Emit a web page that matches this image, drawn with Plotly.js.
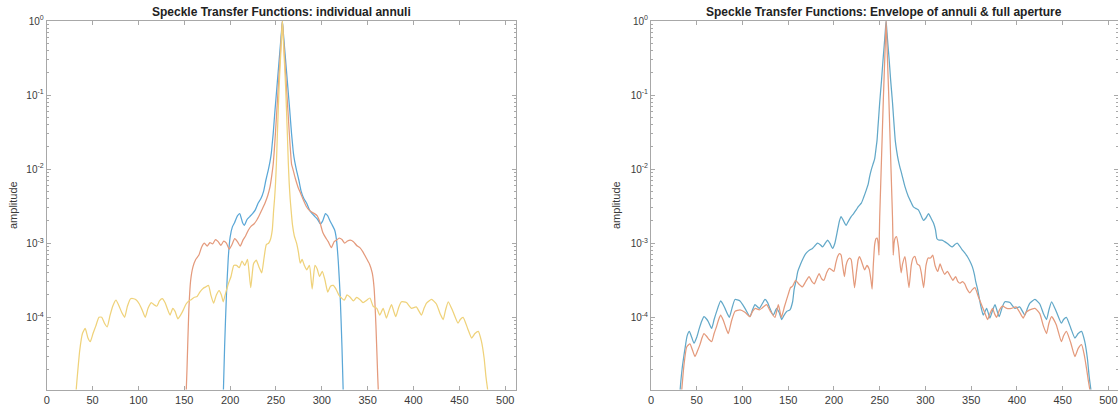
<!DOCTYPE html>
<html>
<head>
<meta charset="utf-8">
<script src="https://cdn.plot.ly/plotly-3.0.1.min.js"></script>
<style>html,body{margin:0;padding:0;background:#fff;}#chart{width:1118px;height:408px;}</style>
</head>
<body>
<div id="chart"></div>
<script>
// ---------- data ----------
const xTicks = [0, 50, 100, 150, 200, 250, 300, 350, 400, 450, 500];
const yTickVals = [1e-4, 1e-3, 1e-2, 1e-1, 1];
const yTickText = ['10<sup>-4</sup>', '10<sup>-3</sup>', '10<sup>-2</sup>', '10<sup>-1</sup>', '10<sup>0</sup>'];

const titleLeft = 'Speckle Transfer Functions: individual annuli';
const titleRight = 'Speckle Transfer Functions: Envelope of annuli & full aperture';
const yLabel = 'amplitude';

// left panel, inner annulus (blue)
const innerX = [192,194,196,198,200,202.5,205,208,210.5,213.5,215.5,218.5,221.5,224.5,227.5,230.5,233.5,236.5,239,241.5,243.5,245,246,247,248,249,250,251,252,253,254,255,256,257,
  258,259,260,261,262,263,264,265,266,267,268,269,270.5,272.5,275,277.5,280.5,283.5,286.5,289.5,292.5,295.5,298.5,301,304,306.5,309,311.5,314,316,318,320,322,324];
const innerY = [5.01e-6,3.98e-5,2.0e-4,6.31e-4,1.20e-3,1.66e-3,1.91e-3,2.34e-3,2.51e-3,1.91e-3,1.74e-3,2.09e-3,2.29e-3,2.51e-3,2.82e-3,3.47e-3,3.98e-3,5.01e-3,7.08e-3,9.55e-3,1.26e-2,1.66e-2,2.24e-2,3.02e-2,4.37e-2,6.31e-2,8.91e-2,0.126,0.178,0.251,0.355,0.501,0.708,1,
  0.708,0.501,0.355,0.251,0.178,0.126,8.91e-2,6.31e-2,4.37e-2,3.02e-2,2.24e-2,1.66e-2,1.26e-2,9.55e-3,7.08e-3,5.01e-3,3.98e-3,3.47e-3,2.82e-3,2.51e-3,2.29e-3,2.09e-3,1.82e-3,2.0e-3,2.51e-3,2.34e-3,2.0e-3,1.74e-3,1.51e-3,1.12e-3,5.62e-4,2.0e-4,3.98e-5,5.01e-6];

// left panel, middle annulus (red)
const middleX = [151,153,155,157,159.5,162.5,166,169,172,175,178,181,184,187,190,193,196,199,202,205,208,211,214,217,220,223,226,229,232,235,238,241,243.5,245.5,247,248,249,250,251,252,253,254,255,256,257,
  258,259,260,261,262,263,264,265,266,267,268.5,271,274,277,280,283,286,289,292,295,298,301,304,307,310.5,313.5,316,319,322,325,328,331,334.5,338,341.5,345,348.5,352,355,357,359,361,363];
const middleY = [3.98e-6,2.0e-5,1.26e-4,3.16e-4,4.79e-4,6.03e-4,6.92e-4,8.91e-4,1.0e-3,9.12e-4,1.02e-3,9.77e-4,1.12e-3,1.05e-3,9.33e-4,1.07e-3,1.0e-3,8.32e-4,9.55e-4,1.15e-3,1.05e-3,9.12e-4,1.10e-3,1.26e-3,1.51e-3,1.70e-3,1.82e-3,2.04e-3,2.40e-3,2.88e-3,3.47e-3,4.37e-3,5.75e-3,8.32e-3,1.17e-2,1.66e-2,2.51e-2,3.98e-2,6.31e-2,0.1,0.158,0.251,0.398,0.631,1,
  0.631,0.398,0.251,0.158,0.1,6.31e-2,3.98e-2,2.51e-2,1.66e-2,1.17e-2,1.0e-2,7.59e-3,5.75e-3,4.68e-3,3.80e-3,3.16e-3,2.82e-3,2.63e-3,2.51e-3,2.34e-3,1.91e-3,1.41e-3,1.20e-3,1.05e-3,8.71e-4,1.05e-3,1.10e-3,1.17e-3,1.12e-3,1.0e-3,1.07e-3,1.10e-3,1.05e-3,9.33e-4,8.71e-4,7.59e-4,6.31e-4,5.25e-4,3.98e-4,2.51e-4,7.94e-5,1.58e-5,3.98e-6];

// left panel, outer annulus (yellow)
const outerX = [30,33,36,39,42,45,47.5,50.5,53.5,57,60,63,66,69,72,75.5,79,82,85,88,91.5,95,98,101,104,107.5,110.5,114,117,120,123,126,129,132,134.5,137.5,140,143,146,149,152,155,158,161,164,167,170.5,173.5,176.5,179,182,185,188,190.5,192.5,195,198,201,204,207,210,213,216,219,222.5,225.5,228.5,231.5,234.5,237,239.5,242,244,246,247.5,248.5,249.5,250.5,251.5,252.5,253.5,254.5,255.5,256.3,257,
  257.7,258.5,259.5,260.5,261.5,262.5,263.5,264.5,265.5,266.5,268,270,272.5,274.5,276.5,278.5,281,283.5,286.5,289.5,292.5,295,297.5,300.5,303.5,306.5,309.5,312.5,315.5,318.5,321.5,324.5,327.5,331,334.5,338,341.5,345,349,352.5,356,360,363.2,366.9,370.5,373,376,378.5,380.7,384,386.9,392.3,397.8,403,408.7,411.5,414.2,419.7,425,429,432.4,435,437.9,443,448.6,451,454.1,459,463.4,467,470.7,474,477,479,481.6,484];
const outerY = [5.01e-6,1.41e-5,3.55e-5,6.03e-5,7.08e-5,5.25e-5,4.68e-5,6.03e-5,7.59e-5,1.0e-4,1.0e-4,8.32e-5,7.41e-5,1.05e-4,1.41e-4,1.70e-4,1.41e-4,1.15e-4,1.0e-4,1.41e-4,1.78e-4,1.78e-4,1.70e-4,1.51e-4,1.26e-4,1.0e-4,1.32e-4,1.58e-4,1.48e-4,1.41e-4,1.66e-4,1.78e-4,1.58e-4,1.26e-4,1.07e-4,1.32e-4,1.20e-4,9.55e-5,1.07e-4,1.26e-4,1.51e-4,1.66e-4,1.74e-4,1.86e-4,1.91e-4,2.19e-4,2.45e-4,2.57e-4,2.69e-4,2.0e-4,1.55e-4,2.0e-4,2.29e-4,2.0e-4,1.62e-4,2.09e-4,2.82e-4,3.55e-4,5.01e-4,5.01e-4,4.68e-4,5.75e-4,5.01e-4,6.03e-4,2.51e-4,5.25e-4,5.89e-4,4.79e-4,3.98e-4,6.31e-4,9.55e-4,1.0e-3,1.12e-3,1.51e-3,2.82e-3,3.98e-3,6.31e-3,1.20e-2,2.82e-2,6.31e-2,0.132,0.24,0.417,0.692,1,
  0.692,0.417,0.24,0.132,6.31e-2,2.82e-2,1.20e-2,6.31e-3,3.98e-3,2.82e-3,1.78e-3,1.26e-3,1.0e-3,7.59e-4,5.37e-4,6.03e-4,5.01e-4,4.37e-4,5.01e-4,2.40e-4,5.01e-4,4.47e-4,3.55e-4,4.17e-4,3.16e-4,2.19e-4,2.63e-4,2.69e-4,2.40e-4,2.0e-4,1.82e-4,1.70e-4,2.0e-4,1.86e-4,1.66e-4,1.86e-4,1.74e-4,1.58e-4,1.70e-4,1.82e-4,1.41e-4,1.32e-4,1.07e-4,1.32e-4,9.77e-5,1.20e-4,1.48e-4,1.20e-4,1.02e-4,1.38e-4,1.62e-4,1.58e-4,1.32e-4,1.38e-4,1.07e-4,1.32e-4,1.55e-4,1.74e-4,1.51e-4,1.12e-4,9.33e-5,1.26e-4,1.62e-4,1.20e-4,8.32e-5,9.33e-5,1.0e-4,7.08e-5,5.25e-5,6.03e-5,6.46e-5,4.79e-5,2.82e-5,1.58e-5,8.91e-6,3.98e-6];

// right panel, envelope of annuli (blue)
const envX = [29.5,31.7,34,37.2,39.5,41.9,44.5,47,50,52.8,55.5,57.9,60.5,62.7,66.3,69,71.8,76.1,78.5,80.9,85.6,88.5,91.8,97.3,102.7,108.2,111,113.7,118.4,121.5,124.6,127.5,130,133.7,137.3,140,142.8,145.5,148.3,151.9,154.8,156.5,158.5,160.5,162.9,166.5,169.2,172.5,176.4,179.5,182,185,187.5,190.5,193,195.5,198.5,201,204,206,207.8,210.5,213.3,216,218.8,221.5,224.3,227,229.9,232.5,235.4,237.5,239,241,243,244.5,246,247.1,248,249,250,251,252,253,254,255,256,257,
  258,259,260,261,262,263,264,265,266,267,268.5,270.3,272,274,277.7,281.3,284,286.8,289.5,292.3,295,297.9,300.5,303.4,306,308.9,311,312.6,315,318.1,321,323.7,326.5,329.2,332,334.7,337.5,340.2,343,345.8,348.5,351.3,353.5,355,357,359.6,361.5,363.2,366.9,370.5,373,376,378.5,380.7,384,386.9,392.3,397.8,403,408.7,411.5,414.2,419.7,425,429,432.4,435,437.9,443,448.6,451,454.1,459,463.4,467,470.7,474,477,479,481.6,484];
const envY = [3.98e-6,1.0e-5,2.0e-5,3.80e-5,5.62e-5,6.46e-5,5.37e-5,4.47e-5,5.37e-5,7.08e-5,8.91e-5,1.02e-4,9.55e-5,8.71e-5,7.08e-5,9.33e-5,1.20e-4,1.66e-4,1.51e-4,1.32e-4,1.0e-4,1.32e-4,1.74e-4,1.66e-4,1.32e-4,1.02e-4,1.26e-4,1.48e-4,1.32e-4,1.51e-4,1.74e-4,1.58e-4,1.32e-4,1.07e-4,1.32e-4,1.17e-4,9.33e-5,1.07e-4,1.20e-4,1.26e-4,1.62e-4,2.40e-4,3.09e-4,4.17e-4,5.01e-4,6.31e-4,7.24e-4,7.94e-4,8.51e-4,9.33e-4,1.0e-3,9.55e-4,8.91e-4,1.0e-3,1.10e-3,1.0e-3,8.51e-4,1.0e-3,1.51e-3,2.0e-3,2.29e-3,2.0e-3,1.74e-3,2.0e-3,2.29e-3,2.51e-3,2.82e-3,3.16e-3,3.47e-3,4.17e-3,5.25e-3,6.31e-3,7.94e-3,1.0e-2,1.20e-2,1.38e-2,1.91e-2,2.45e-2,3.55e-2,5.25e-2,7.94e-2,0.112,0.158,0.234,0.339,0.479,0.692,1,
  0.692,0.479,0.339,0.234,0.158,0.112,7.94e-2,5.25e-2,3.55e-2,2.45e-2,1.78e-2,1.32e-2,1.07e-2,8.71e-3,5.75e-3,4.27e-3,3.63e-3,3.09e-3,2.95e-3,2.82e-3,2.40e-3,2.04e-3,2.19e-3,2.51e-3,2.19e-3,1.86e-3,1.51e-3,1.15e-3,1.10e-3,1.10e-3,1.05e-3,1.0e-3,9.33e-4,8.91e-4,9.55e-4,1.0e-3,9.12e-4,8.13e-4,7.41e-4,6.61e-4,5.75e-4,4.79e-4,3.80e-4,3.02e-4,2.40e-4,1.62e-4,1.26e-4,1.07e-4,1.32e-4,9.77e-5,1.20e-4,1.48e-4,1.20e-4,1.02e-4,1.38e-4,1.62e-4,1.58e-4,1.32e-4,1.38e-4,1.07e-4,1.32e-4,1.55e-4,1.74e-4,1.51e-4,1.12e-4,9.33e-5,1.26e-4,1.62e-4,1.20e-4,8.32e-5,9.33e-5,1.0e-4,7.08e-5,5.25e-5,6.03e-5,6.46e-5,4.79e-5,2.82e-5,1.58e-5,8.91e-6,3.98e-6];

// right panel, full aperture (red)
const fullX = [31,33.5,36,39,42.6,45.5,48.1,51,53.5,56,57.9,61,63.5,66.3,69,71.8,74,76.1,79,81.5,84.5,88,91.8,97.3,102.7,108.2,111,114,118.5,122,126.4,130.5,135.5,139.2,142.5,146,150,152.5,154.8,158.1,161.5,165.5,169,172.8,176,178.5,181,183.8,186.5,189,192,194.9,197.5,200,202,204,206,207.8,209.5,211.4,213.2,215,217,218.8,220.5,222.5,224.5,226.5,228,230,233.5,236,238.5,240.5,241.7,243,244.5,246,247.2,248.3,249.2,249.6,250,251,252,253,254,255,256,257,
  258,259,260,261,262,263,264,264.4,264.8,265.7,266.8,268.4,270.5,272,273.5,275,277.6,279.5,282,284.5,286.5,288.6,291,293.5,295.5,298,300.6,303,305.5,308,310.5,313.5,316,318.5,321,324,327,330,333,335.5,337.7,340.5,343,345.5,348.6,351,354.1,357.8,361,364.3,368,370.5,373.4,375.5,377.8,381,384.4,389,394,399,403,406.9,410,414,419.7,425,429,432.4,435,437.9,443,448.6,451,454.1,459,463.4,467,470.7,473.5,476.2,478,479.9,482];
const fullY = [3.98e-6,1.0e-5,2.24e-5,3.98e-5,4.37e-5,3.55e-5,2.95e-5,3.55e-5,4.27e-5,5.37e-5,6.03e-5,5.50e-5,5.01e-5,4.68e-5,6.03e-5,7.59e-5,9.33e-5,1.07e-4,9.12e-5,7.41e-5,6.03e-5,8.91e-5,1.20e-4,1.26e-4,1.17e-4,1.02e-4,1.20e-4,1.32e-4,1.26e-4,1.35e-4,1.48e-4,1.20e-4,1.0e-4,1.48e-4,1.0e-4,1.41e-4,2.04e-4,2.51e-4,2.63e-4,3.16e-4,2.82e-4,2.57e-4,3.02e-4,3.55e-4,3.02e-4,2.82e-4,3.31e-4,3.89e-4,3.31e-4,3.16e-4,3.98e-4,4.57e-4,4.37e-4,4.17e-4,5.37e-4,6.61e-4,7.24e-4,6.92e-4,5.01e-4,3.55e-4,5.01e-4,5.89e-4,6.31e-4,6.03e-4,4.17e-4,2.51e-4,3.98e-4,6.03e-4,6.61e-4,5.75e-4,4.37e-4,5.01e-4,4.47e-4,3.16e-4,2.40e-4,5.01e-4,9.55e-4,1.15e-3,1.17e-3,1.0e-3,6.92e-4,1.26e-3,2.24e-3,5.62e-3,1.41e-2,3.55e-2,8.91e-2,0.2,0.447,1,
  0.447,0.2,8.91e-2,3.55e-2,1.41e-2,5.62e-3,2.24e-3,1.26e-3,6.92e-4,1.0e-3,1.17e-3,1.23e-3,8.91e-4,5.62e-4,3.98e-4,5.25e-4,6.61e-4,4.47e-4,2.51e-4,5.01e-4,6.31e-4,6.61e-4,5.25e-4,5.01e-4,3.98e-4,2.51e-4,5.01e-4,6.31e-4,6.31e-4,6.92e-4,5.01e-4,4.17e-4,5.25e-4,4.37e-4,3.80e-4,4.17e-4,3.63e-4,3.16e-4,3.55e-4,3.02e-4,2.88e-4,3.02e-4,2.82e-4,2.40e-4,2.14e-4,2.34e-4,2.51e-4,1.91e-4,1.51e-4,1.20e-4,9.33e-5,1.12e-4,1.32e-4,1.12e-4,1.0e-4,1.26e-4,1.41e-4,1.32e-4,1.32e-4,1.38e-4,1.17e-4,9.77e-5,1.17e-4,1.26e-4,1.32e-4,1.12e-4,7.59e-5,6.03e-5,8.32e-5,1.02e-4,7.94e-5,4.68e-5,5.62e-5,6.46e-5,4.47e-5,2.95e-5,3.80e-5,4.27e-5,3.16e-5,2.0e-5,1.41e-5,1.0e-5,3.98e-6];

// ---------- styling ----------
const W = 1118, H = 408;
const BLUE_L = '#5aa7d7', BLUE_R = '#62a8c8', RED = '#e49a7c', YELLOW = '#efd27a';
const AXC = '#a8a8a8', TXT = '#3a3a3a';
const FONT = 'Liberation Sans, Arial, sans-serif';

const minorVals = [];
for (let e = -5; e < 0; e++) for (let m = 2; m <= 9; m++) minorVals.push(m * Math.pow(10, e));

function line(x, y, color, xa, ya) {
  return {x: x, y: y, type: 'scatter', mode: 'lines', xaxis: xa, yaxis: ya,
          line: {color: color, width: 1.25, shape: 'spline', smoothing: 0.5}, hoverinfo: 'skip'};
}

const data = [
  line(innerX, innerY, BLUE_L, 'x', 'y'),
  line(middleX, middleY, RED, 'x', 'y'),
  line(outerX, outerY, YELLOW, 'x', 'y'),
  line(envX, envY, BLUE_R, 'x2', 'y2'),
  line(fullX, fullY, RED, 'x2', 'y2')
];

function xAxis(domain, range, anchor) {
  return {domain: domain, range: range, anchor: anchor, tickmode: 'array', tickvals: xTicks,
          ticks: 'inside', ticklen: 4, tickwidth: 1, tickcolor: AXC, showline: true, linecolor: AXC, linewidth: 1,
          mirror: 'ticks', showgrid: false, zeroline: false,
          tickfont: {family: FONT, size: 11, color: TXT}};
}
function yAxis(anchor) {
  return {domain: [1 - 389.5 / H, 1 - 21 / H], type: 'log', range: [-4.975, 0], anchor: anchor,
          tickmode: 'array', tickvals: yTickVals, ticktext: yTickText,
          ticks: 'inside', ticklen: 4, tickwidth: 1, tickcolor: AXC, showline: true, linecolor: AXC, linewidth: 1,
          mirror: 'ticks', showgrid: false, zeroline: false,
          minor: {tickmode: 'array', tickvals: minorVals, ticks: 'inside', ticklen: 2, tickcolor: AXC, showgrid: false},
          tickfont: {family: FONT, size: 10, color: TXT}};
}

const layout = {
  width: W, height: H, margin: {l: 0, r: 0, t: 0, b: 0},
  paper_bgcolor: '#ffffff', plot_bgcolor: '#ffffff', showlegend: false,
  xaxis: xAxis([46.7 / W, 516.2 / W], [0, 512], 'y'),
  yaxis: yAxis('x'),
  xaxis2: xAxis([651 / W, 1], [0, 510.5], 'y2'),
  yaxis2: yAxis('x2'),
  annotations: [
    {text: '<b>' + titleLeft + '</b>', xref: 'paper', yref: 'paper', x: 281.5 / W, y: 1 - 12 / H,
     xanchor: 'center', yanchor: 'middle', showarrow: false, font: {family: FONT, size: 12, color: '#222'}},
    {text: '<b>' + titleRight + '</b>', xref: 'paper', yref: 'paper', x: 884 / W, y: 1 - 12 / H,
     xanchor: 'center', yanchor: 'middle', showarrow: false, font: {family: FONT, size: 12, color: '#222'}},
    {text: yLabel, xref: 'paper', yref: 'paper', x: 13 / W, y: 1 - 205 / H, textangle: -90,
     xanchor: 'center', yanchor: 'middle', showarrow: false, font: {family: FONT, size: 11, color: TXT}},
    {text: yLabel, xref: 'paper', yref: 'paper', x: 616 / W, y: 1 - 205 / H, textangle: -90,
     xanchor: 'center', yanchor: 'middle', showarrow: false, font: {family: FONT, size: 11, color: TXT}}
  ]
};

Plotly.newPlot('chart', data, layout, {staticPlot: true, displayModeBar: false});
</script>
</body>
</html>
